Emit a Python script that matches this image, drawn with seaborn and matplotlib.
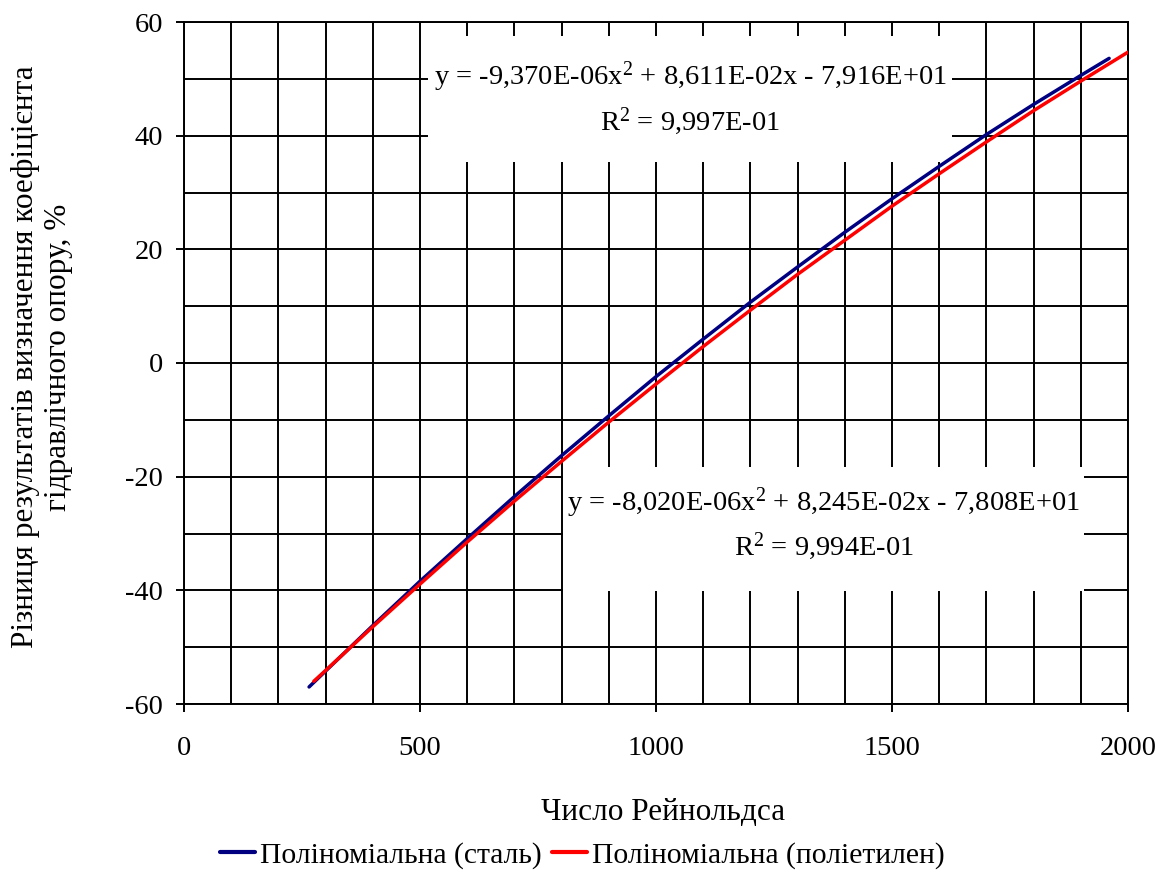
import numpy as np
import pandas as pd
import matplotlib
matplotlib.use("Agg")
import matplotlib.pyplot as plt
import seaborn as sns
from matplotlib.patches import Rectangle
from matplotlib.transforms import Bbox

# ---- data ----
steel_x = [265, 300, 400, 500, 600, 700, 800, 900, 1000, 1100, 1200, 1300,
           1400, 1500, 1600, 1700, 1800, 1900, 1960]
steel_y = [-57.0, -54.2, -46.2, -38.4, -30.9, -23.5, -16.3, -9.3, -2.4, 4.2,
           10.7, 16.9, 23.0, 28.9, 34.6, 40.2, 45.5, 50.6, 53.6]
pe_x = [275, 300, 400, 500, 600, 700, 800, 900, 1000, 1100, 1200, 1300,
        1400, 1500, 1600, 1700, 1800, 1900, 2000]
pe_y = [-56.0, -54.1, -46.4, -38.9, -31.5, -24.3, -17.3, -10.4, -3.7, 2.9,
        9.3, 15.6, 21.6, 27.6, 33.3, 38.9, 44.4, 49.6, 54.7]
series_names = ["Поліноміальна (сталь)", "Поліноміальна (поліетилен)"]
series_colors = ["#000080", "#FF0000"]
eq_steel = ["y = -9,370E-06x$^{2}$ + 8,611E-02x - 7,916E+01", "R$^{2}$ = 9,997E-01"]
eq_pe = ["y = -8,020E-06x$^{2}$ + 8,245E-02x - 7,808E+01", "R$^{2}$ = 9,994E-01"]
x_ticks = [0, 500, 1000, 1500, 2000]
y_ticks = [-60, -40, -20, 0, 20, 40, 60]
x_label = "Число Рейнольдса"
y_label = "Різниця результатів визначення коефіцієнта\nгідравлічного опору, %"

df = pd.concat([
    pd.DataFrame({"x": steel_x, "y": steel_y, "s": series_names[0]}),
    pd.DataFrame({"x": pe_x, "y": pe_y, "s": series_names[1]}),
], ignore_index=True)

sns.set_theme(style="white")
plt.rcParams["font.family"] = ["Liberation Serif", "DejaVu Serif"]
plt.rcParams["mathtext.fontset"] = "custom"
plt.rcParams["mathtext.rm"] = "Liberation Serif"
plt.rcParams["mathtext.it"] = "Liberation Serif"
plt.rcParams["mathtext.bf"] = "Liberation Serif"
plt.rcParams["axes.unicode_minus"] = False
plt.rcParams["text.color"] = "black"

FS = 20.5
W, H = 1165, 881
fig = plt.figure(figsize=(W / 100, H / 100), dpi=100)
fig.patch.set_facecolor("white")
ax = fig.add_axes([184 / W, (H - 704) / H, 944 / W, 682 / H])

sns.lineplot(data=df, x="x", y="y", hue="s", palette=series_colors,
             hue_order=series_names, linewidth=2.5, ax=ax, legend=False,
             zorder=5, sort=False)

ax.set_xlim(0, 2000)
ax.set_ylim(-60, 60)
ax.set_xticks(x_ticks)
ax.set_yticks(y_ticks)
ax.set_xticks(np.arange(0, 2001, 100), minor=True)
ax.set_yticks(np.arange(-60, 61, 10), minor=True)
ax.grid(True, which="both", color="black", linewidth=1.4, zorder=1)
ax.set_axisbelow(True)
ax.tick_params(which="major", direction="out", length=6, width=1.4,
               color="black", labelsize=FS, labelcolor="black",
               bottom=True, left=True)
ax.tick_params(axis="x", which="major", pad=17)
ax.tick_params(axis="y", which="major", pad=9)
ax.tick_params(which="minor", length=0)
for sp in ax.spines.values():
    sp.set_color("black")
    sp.set_linewidth(1.4)
ax.set_xlabel("")
ax.set_ylabel("")

# white boxes behind equation labels
ax.add_patch(Rectangle((517, 35.4), 1110, 22.1, facecolor="white",
                       edgecolor="none", zorder=3))
ax.add_patch(Rectangle((803, -40.1), 1104, 21.8, facecolor="white",
                       edgecolor="none", zorder=3))
ax.text(1072, 50.3, eq_steel[0], ha="center", va="center", fontsize=FS, zorder=6)
ax.text(1072, 42.6, eq_steel[1], ha="center", va="center", fontsize=FS, zorder=6)
ax.text(1355, -24.6, eq_pe[0], ha="center", va="center", fontsize=FS, zorder=6)
ax.text(1355, -32.3, eq_pe[1], ha="center", va="center", fontsize=FS, zorder=6)

fig.text(663 / W, 1 - 812 / H, x_label, ha="center", va="center", fontsize=22.5)
yl = fig.text(42 / W, 1 - 357 / H, y_label, ha="center", va="center",
              rotation=90, fontsize=22.5, multialignment="center",
              linespacing=1.2)
yl.set_clip_on(True)
yl.set_clip_box(Bbox.from_extents(0, 0, W, H - 67))

handles = [plt.Line2D([], [], color=c, linewidth=3) for c in series_colors]
fig.legend(handles, series_names, loc="center", ncol=2,
           bbox_to_anchor=(582 / W, 1 - 855 / H), frameon=False, fontsize=21.3,
           handlelength=1.2, handletextpad=0.15, columnspacing=0.35)

fig.savefig("out.png", dpi=100, facecolor="white")
